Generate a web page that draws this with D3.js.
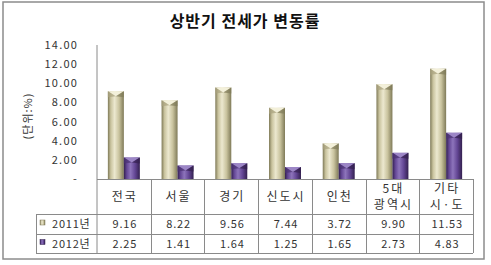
<!DOCTYPE html>
<html>
<head>
<meta charset="utf-8">
<script src="https://cdn.jsdelivr.net/npm/d3@7"></script>
<style>
  html, body { margin: 0; padding: 0; background: #fff; }
  svg { display: block; }
  text { font-family: "Noto Sans CJK KR", "Noto Sans", sans-serif; fill: #333; }
</style>
</head>
<body>
<svg id="chart" width="491" height="265"></svg>
<script>
// Half-year jeonse price change rate by region (unit: %)
const categories = ["전국", "서울", "경기", "신도시", "인천", "5대\n광역시", "기타\n시·도"];
const seriesNames = ["2011년", "2012년"];
const values2011 = [9.16, 8.22, 9.56, 7.44, 3.72, 9.90, 11.53];
const values2012 = [2.25, 1.41, 1.64, 1.25, 1.65, 2.73, 4.83];
const yTicks = [0, 2, 4, 6, 8, 10, 12, 14];
const title = "상반기 전세가 변동률";
const yTitle = "(단위:%)";

const series = [values2011, values2012];
const palettes = [
  { dark: "#7f7a58", mid: "#c9c39e", light: "#ece8cf", cap: "#f3f0da", capSide: "#a9a37f" },
  { dark: "#33204f", mid: "#634694", light: "#8d74bb", cap: "#9c86c6", capSide: "#4a3272" }
];

const svg = d3.select("#chart");
const defs = svg.append("defs");

palettes.forEach((p, i) => {
  const g = defs.append("linearGradient").attr("id", "barGrad" + i)
    .attr("x1", "0%").attr("x2", "100%").attr("y1", "0%").attr("y2", "0%");
  g.append("stop").attr("offset", "0%").attr("stop-color", p.dark);
  g.append("stop").attr("offset", "18%").attr("stop-color", p.mid);
  g.append("stop").attr("offset", "42%").attr("stop-color", p.light);
  g.append("stop").attr("offset", "70%").attr("stop-color", p.mid);
  g.append("stop").attr("offset", "100%").attr("stop-color", p.dark);
});

// outer frame
svg.append("rect").attr("x", 3).attr("y", 2).attr("width", 481).attr("height", 257)
  .attr("fill", "#fff").attr("stroke", "#8c8c8c").attr("stroke-width", 1.5);

svg.append("text").attr("x", 245).attr("y", 27).attr("text-anchor", "middle")
  .style("font-size", "16px").style("font-weight", "bold").style("letter-spacing", "1px")
  .style("fill", "#111").text(title);

const x = d3.scaleBand().domain(categories).range([97, 473]).paddingInner(0).paddingOuter(0);
const xInner = d3.scaleBand().domain(seriesNames).range([0, x.bandwidth()])
  .paddingInner(0).paddingOuter(0.68);
const y = d3.scaleLinear().domain([0, 14]).range([179, 45]);

// y axis labels
const yAxis = d3.axisLeft(y).tickValues(yTicks).tickSize(0).tickPadding(0)
  .tickFormat(d => d === 0 ? "-" : d3.format(".2f")(d));
const yg = svg.append("g").attr("transform", "translate(78,0)").call(yAxis);
yg.select(".domain").remove();
yg.selectAll("text").style("font-size", "11px").style("letter-spacing", "1.2px")
  .style("fill", "#333").style("font-family", "'Noto Sans CJK KR', sans-serif");

svg.append("text").attr("transform", "translate(32,116) rotate(-90)")
  .attr("text-anchor", "middle").style("font-size", "11px").style("letter-spacing", "1px")
  .text(yTitle);

// bars
const capH = 5;
seriesNames.forEach((name, si) => {
  const p = palettes[si];
  const g = svg.append("g");
  categories.forEach((c, ci) => {
    const v = series[si][ci];
    const bx = x(c) + xInner(name);
    const bw = xInner.bandwidth();
    const top = y(v);
    const base = y(0);
    g.append("rect").attr("x", bx).attr("y", top).attr("width", bw).attr("height", base - top)
      .attr("fill", `url(#barGrad${si})`);
    // bevelled cap
    g.append("path")
      .attr("d", `M${bx},${top}L${bx + bw},${top}L${bx + bw / 2},${top + capH}Z`)
      .attr("fill", p.cap);
    g.append("path")
      .attr("d", `M${bx},${top}L${bx + bw / 2},${top + capH}L${bx},${top + capH + 1}Z`)
      .attr("fill", p.capSide).attr("opacity", 0.7);
    g.append("path")
      .attr("d", `M${bx + bw},${top}L${bx + bw / 2},${top + capH}L${bx + bw},${top + capH + 1}Z`)
      .attr("fill", p.dark).attr("opacity", 0.7);
  });
});

// axis line
const grid = "#8a8a8a";
svg.append("line").attr("x1", 97).attr("x2", 97).attr("y1", 45).attr("y2", 253)
  .attr("stroke", grid).attr("stroke-width", 1);

// data table
const rowTop = [179, 214, 234, 253];
const tbl = svg.append("g").attr("stroke", grid).attr("stroke-width", 1).attr("shape-rendering", "crispEdges");
tbl.append("line").attr("x1", 97).attr("x2", 473).attr("y1", rowTop[0] + 0.5).attr("y2", rowTop[0] + 0.5);
[1, 2, 3].forEach(r => tbl.append("line").attr("x1", 36).attr("x2", 473)
  .attr("y1", rowTop[r] + 0.5).attr("y2", rowTop[r] + 0.5));
tbl.append("line").attr("x1", 36.5).attr("x2", 36.5).attr("y1", rowTop[1]).attr("y2", rowTop[3]);
categories.forEach(c => {
  const xx = Math.round(x(c) + x.bandwidth()) + 0.5;
  tbl.append("line").attr("x1", xx).attr("x2", xx).attr("y1", rowTop[0]).attr("y2", rowTop[3]);
});

// category labels
categories.forEach(c => {
  const lines = c.split("\n");
  const cx = x(c) + x.bandwidth() / 2;
  const t = svg.append("text").attr("text-anchor", "middle")
    .style("font-size", "12px").style("letter-spacing", "2px");
  if (lines.length === 1) {
    t.append("tspan").attr("x", cx + 1).attr("y", 201).text(lines[0]);
  } else {
    t.append("tspan").attr("x", cx + 1).attr("y", 193).text(lines[0]);
    t.append("tspan").attr("x", cx + 1).attr("y", 209).text(lines[1]);
  }
});

// value rows + legend keys
seriesNames.forEach((name, si) => {
  const cy = (rowTop[si + 1] + rowTop[si + 2]) / 2 + 4;
  svg.append("rect").attr("x", 40).attr("y", cy - 8).attr("width", 5).attr("height", 5)
    .attr("fill", `url(#barGrad${si})`).attr("stroke", palettes[si].dark).attr("stroke-width", 0.5);
  svg.append("text").attr("x", 52).attr("y", cy).style("font-size", "11px")
    .style("letter-spacing", "0.8px").text(name);
  categories.forEach((c, ci) => {
    svg.append("text").attr("x", x(c) + x.bandwidth() / 2 + 1).attr("y", cy)
      .attr("text-anchor", "middle").style("font-size", "11px").style("letter-spacing", "0.8px")
      .text(d3.format(".2f")(series[si][ci]));
  });
});
</script>
</body>
</html>
